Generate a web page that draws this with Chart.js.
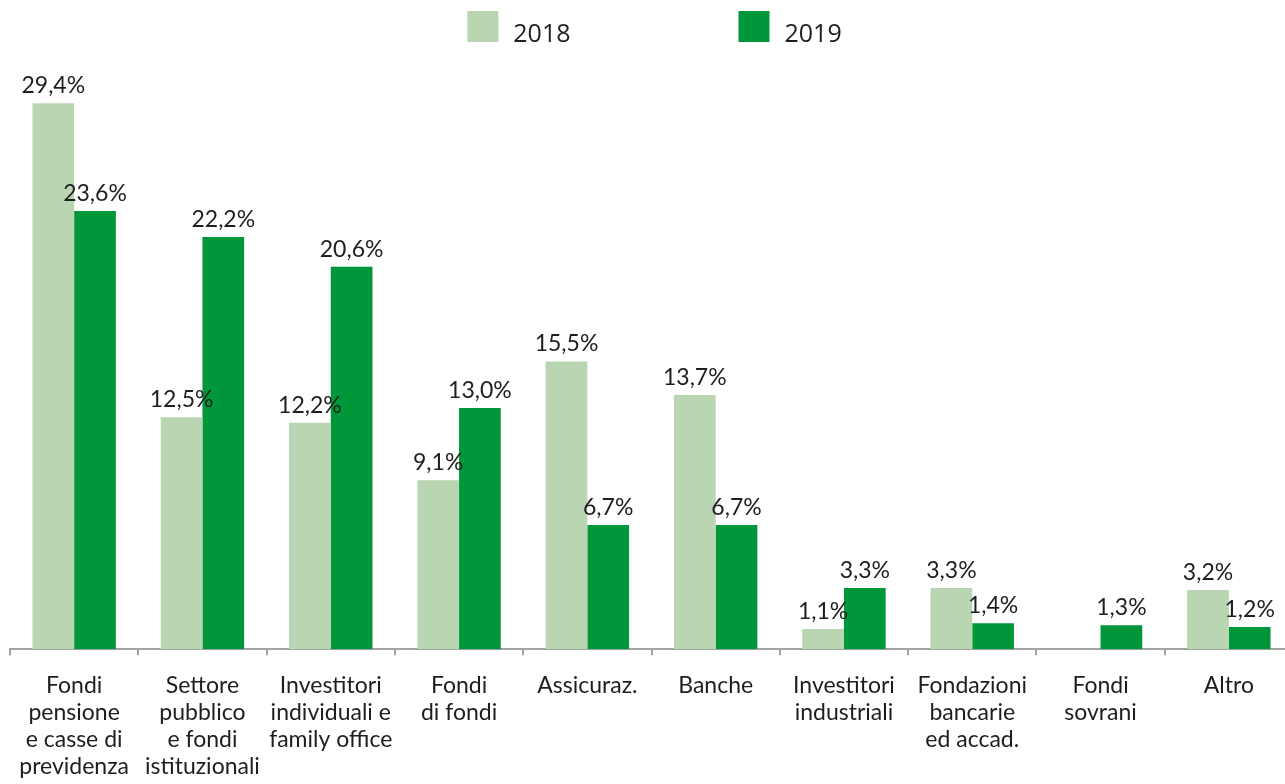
<!DOCTYPE html>
<html lang="it">
<head>
<meta charset="utf-8">
<title>Investitori per tipologia, 2018-2019</title>
<script src="https://cdn.jsdelivr.net/npm/chart.js@4"></script>
<style>
  html, body { margin: 0; padding: 0; background: #ffffff; overflow: hidden; }
  #wrap { position: absolute; left: 0; top: 0; width: 1303px; height: 797px; }
</style>
</head>
<body>
<div id="wrap"><canvas id="chart"></canvas></div>
<script>
// Categorie di investitori (etichette su più righe)
const categories = [
  ['Fondi', 'pensione', 'e casse di', 'previdenza'],
  ['Settore', 'pubblico', 'e fondi', 'istituzionali'],
  ['Investitori', 'individuali e', 'family office'],
  ['Fondi', 'di fondi'],
  ['Assicuraz.'],
  ['Banche'],
  ['Investitori', 'industriali'],
  ['Fondazioni', 'bancarie', 'ed accad.'],
  ['Fondi', 'sovrani'],
  ['Altro']
];

const seriesNames = ['2018', '2019'];

// Quote percentuali per anno
const values2018 = [29.4, 12.5, 12.2, 9.1, 15.5, 13.7, 1.1, 3.3, null, 3.2];
const values2019 = [23.6, 22.2, 20.6, 13.0, 6.7, 6.7, 3.3, 1.4, 1.3, 1.2];

const colors = ['#b9d5b2', '#00963a'];
const textColor = '#1e1e1e';
const axisColor = '#a3a3a3';
const labelFont = 'Lato, "Noto Sans", sans-serif';

const fmt = v => v.toFixed(1).replace('.', ',') + '%';

// Etichette con il valore sopra ogni barra
const valueLabels = {
  id: 'valueLabels',
  afterDatasetsDraw(chart) {
    const ctx = chart.ctx;
    ctx.save();
    ctx.font = '23px ' + labelFont;
    ctx.fillStyle = textColor;
    ctx.textAlign = 'center';
    ctx.textBaseline = 'alphabetic';
    chart.data.datasets.forEach((ds, i) => {
      const meta = chart.getDatasetMeta(i);
      meta.data.forEach((bar, j) => {
        const v = ds.data[j];
        if (v == null) return;
        ctx.fillText(fmt(v), bar.x, bar.y - 10);
      });
    });
    ctx.restore();
  }
};

// Legenda in alto, centrata sull'area del grafico
const topLegend = {
  id: 'topLegend',
  afterDraw(chart) {
    const ctx = chart.ctx;
    const box = 31, textGap = 15, itemGap = 168;
    ctx.save();
    ctx.font = '25px "Open Sans", sans-serif';
    const widths = chart.data.datasets.map(ds => ctx.measureText(ds.label).width);
    const total = widths.reduce((a, w) => a + box + textGap + w, 0) + itemGap * (widths.length - 1);
    const center = (chart.chartArea.left + chart.chartArea.right) / 2 + 3;
    let x = center - total / 2;
    const top = 11;
    chart.data.datasets.forEach((ds, i) => {
      ctx.fillStyle = ds.backgroundColor;
      ctx.fillRect(x, top, box, box);
      ctx.fillStyle = textColor;
      ctx.textAlign = 'left';
      ctx.textBaseline = 'alphabetic';
      ctx.fillText(ds.label, x + box + textGap, top + box);
      x += box + textGap + widths[i] + itemGap;
    });
    ctx.restore();
  }
};

new Chart(document.getElementById('chart'), {
  type: 'bar',
  data: {
    labels: categories,
    datasets: [
      { label: seriesNames[0], data: values2018, backgroundColor: colors[0] },
      { label: seriesNames[1], data: values2019, backgroundColor: colors[1] }
    ]
  },
  options: {
    responsive: true,
    maintainAspectRatio: false,
    animation: false,
    layout: { padding: { left: 10, right: 10, top: 55, bottom: 0 } },
    datasets: { bar: { categoryPercentage: 0.65, barPercentage: 1.0 } },
    plugins: {
      legend: { display: false },
      tooltip: { enabled: false }
    },
    scales: {
      x: {
        grid: {
          display: true,
          offset: true,
          drawOnChartArea: false,
          drawTicks: true,
          tickLength: 6,
          color: axisColor,
          lineWidth: 2
        },
        border: { display: true, color: axisColor, width: 2 },
        ticks: {
          color: textColor,
          padding: 17,
          maxRotation: 0,
          autoSkip: false,
          font: { family: labelFont, size: 23, lineHeight: 1.17 }
        }
      },
      y: {
        display: false,
        min: 0,
        max: 32
      }
    }
  },
  plugins: [valueLabels, topLegend]
});
</script>
</body>
</html>
